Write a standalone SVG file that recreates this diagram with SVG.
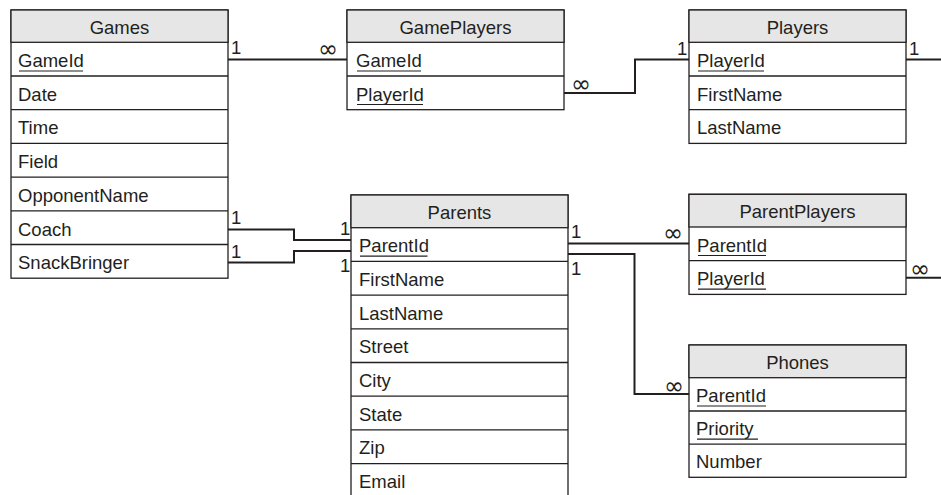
<svg xmlns="http://www.w3.org/2000/svg" width="941" height="495" viewBox="0 0 941 495">
<style>
.box{fill:#fff;stroke:#231f20;stroke-width:1.3}
.hdr{fill:#e6e6e7;stroke:#231f20;stroke-width:1.3}
.sep{stroke:#231f20;stroke-width:1.3}
.t{font-family:"Liberation Sans",Arial,sans-serif;font-size:18.5px;fill:#231f20}
.h{text-anchor:middle}
.u{stroke:#231f20;stroke-width:1.2}
.c{fill:none;stroke:#231f20;stroke-width:2}
.inf{font-family:"DejaVu Sans",sans-serif;font-size:24px;fill:#231f20}
</style>
<g id="connectors">
<polyline class="c" points="228,59.5 347,59.5"/>
<polyline class="c" points="564,93 635,93 635,59.5 689,59.5"/>
<polyline class="c" points="906,59.5 941,59.5"/>
<polyline class="c" points="228,229.5 294,229.5 294,240 351,240"/>
<polyline class="c" points="228,262.5 294,262.5 294,251 351,251"/>
<polyline class="c" points="568,243.5 689,243.5"/>
<polyline class="c" points="568,254 634.5,254 634.5,394 689,394"/>
<polyline class="c" points="906,277.7 941,277.7"/>
<text class="t" x="231" y="54">1</text>
<text class="inf" x="318" y="57">∞</text>
<text class="inf" x="571" y="92">∞</text>
<text class="t" x="677" y="55">1</text>
<text class="t" x="909" y="55">1</text>
<text class="t" x="231" y="224">1</text>
<text class="t" x="231" y="258">1</text>
<text class="t" x="340" y="235">1</text>
<text class="t" x="340" y="272">1</text>
<text class="t" x="571" y="238">1</text>
<text class="t" x="571" y="275">1</text>
<text class="inf" x="663" y="241">∞</text>
<text class="inf" x="910" y="277">∞</text>
<text class="inf" x="664" y="394">∞</text>
</g>
<g id="Games">
<rect class="box" x="11" y="10" width="217" height="268.2"/>
<rect class="hdr" x="11" y="10" width="217" height="32.3"/>
<line class="sep" x1="11" y1="76" x2="228" y2="76"/>
<line class="sep" x1="11" y1="109.7" x2="228" y2="109.7"/>
<line class="sep" x1="11" y1="143.4" x2="228" y2="143.4"/>
<line class="sep" x1="11" y1="177.1" x2="228" y2="177.1"/>
<line class="sep" x1="11" y1="210.8" x2="228" y2="210.8"/>
<line class="sep" x1="11" y1="244.5" x2="228" y2="244.5"/>
<text class="t h" x="119.5" y="34">Games</text>
<text class="t" x="18" y="67">GameId</text>
<line class="u" x1="19" y1="71" x2="83" y2="71"/>
<text class="t" x="18" y="100.7">Date</text>
<text class="t" x="18" y="134.4">Time</text>
<text class="t" x="18" y="168.1">Field</text>
<text class="t" x="18" y="201.8">OpponentName</text>
<text class="t" x="18" y="235.5">Coach</text>
<text class="t" x="18" y="269.2">SnackBringer</text>
</g>
<g id="GamePlayers">
<rect class="box" x="347" y="10" width="217" height="99.7"/>
<rect class="hdr" x="347" y="10" width="217" height="32.3"/>
<line class="sep" x1="347" y1="76" x2="564" y2="76"/>
<text class="t h" x="455.5" y="34">GamePlayers</text>
<text class="t" x="356" y="67">GameId</text>
<line class="u" x1="357" y1="71" x2="421" y2="71"/>
<text class="t" x="356" y="100.7">PlayerId</text>
<line class="u" x1="357" y1="104.5" x2="423" y2="104.5"/>
</g>
<g id="Players">
<rect class="box" x="689" y="10" width="217" height="133.4"/>
<rect class="hdr" x="689" y="10" width="217" height="32.3"/>
<line class="sep" x1="689" y1="76" x2="906" y2="76"/>
<line class="sep" x1="689" y1="109.7" x2="906" y2="109.7"/>
<text class="t h" x="797.5" y="34">Players</text>
<text class="t" x="697" y="67">PlayerId</text>
<line class="u" x1="698" y1="71" x2="764" y2="71"/>
<text class="t" x="697" y="100.7">FirstName</text>
<text class="t" x="697" y="134.4">LastName</text>
</g>
<g id="Parents">
<rect class="box" x="351" y="195" width="217" height="302.3"/>
<rect class="hdr" x="351" y="195" width="217" height="32.7"/>
<line class="sep" x1="351" y1="261.4" x2="568" y2="261.4"/>
<line class="sep" x1="351" y1="295.1" x2="568" y2="295.1"/>
<line class="sep" x1="351" y1="328.8" x2="568" y2="328.8"/>
<line class="sep" x1="351" y1="362.5" x2="568" y2="362.5"/>
<line class="sep" x1="351" y1="396.2" x2="568" y2="396.2"/>
<line class="sep" x1="351" y1="429.9" x2="568" y2="429.9"/>
<line class="sep" x1="351" y1="463.6" x2="568" y2="463.6"/>
<text class="t h" x="459.5" y="219">Parents</text>
<text class="t" x="359" y="252.2">ParentId</text>
<line class="u" x1="360" y1="256.2" x2="427.5" y2="256.2"/>
<text class="t" x="359" y="285.9">FirstName</text>
<text class="t" x="359" y="319.6">LastName</text>
<text class="t" x="359" y="353.3">Street</text>
<text class="t" x="359" y="387">City</text>
<text class="t" x="359" y="420.7">State</text>
<text class="t" x="359" y="454.4">Zip</text>
<text class="t" x="359" y="488.1">Email</text>
</g>
<g id="ParentPlayers">
<rect class="box" x="689" y="194.3" width="217" height="100.1"/>
<rect class="hdr" x="689" y="194.3" width="217" height="32.7"/>
<line class="sep" x1="689" y1="260.7" x2="906" y2="260.7"/>
<text class="t h" x="797.5" y="218.3">ParentPlayers</text>
<text class="t" x="697" y="251.5">ParentId</text>
<line class="u" x1="698" y1="255.5" x2="766" y2="255.5"/>
<text class="t" x="697" y="285.2">PlayerId</text>
<line class="u" x1="698" y1="289.2" x2="766" y2="289.2"/>
</g>
<g id="Phones">
<rect class="box" x="689" y="345" width="217" height="132.3"/>
<rect class="hdr" x="689" y="345" width="217" height="32.7"/>
<line class="sep" x1="689" y1="411" x2="906" y2="411"/>
<line class="sep" x1="689" y1="444.1" x2="906" y2="444.1"/>
<text class="t h" x="797.5" y="369">Phones</text>
<text class="t" x="696" y="402">ParentId</text>
<line class="u" x1="697" y1="406" x2="766" y2="406"/>
<text class="t" x="696" y="435.2">Priority</text>
<line class="u" x1="697" y1="439.2" x2="758" y2="439.2"/>
<text class="t" x="696" y="468.3">Number</text>
</g>
</svg>
